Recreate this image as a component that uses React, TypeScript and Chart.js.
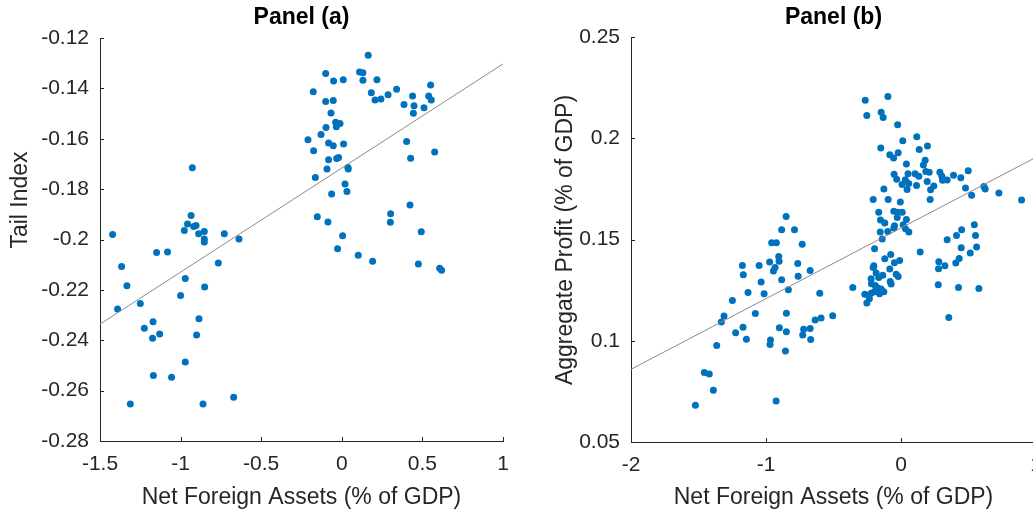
import React, { useEffect, useRef } from 'react';
import { Chart, registerables } from 'chart.js';

Chart.register(...registerables);

const FONT = '"Liberation Sans", Arial, Helvetica, sans-serif';
const AXIS_COLOR = '#262626';
const DOT_COLOR = '#0072BD';
const FIT_COLOR = '#8a8a8a';

// ---------- Panel (a) ----------
const aTitle = 'Panel (a)';
const aYLabel = 'Tail Index';
const xLabel = 'Net Foreign Assets (% of GDP)';
const aXTicks = [-1.5, -1, -0.5, 0, 0.5, 1];
const aXTickLabels = ['-1.5', '-1', '-0.5', '0', '0.5', '1'];
const aYTicks = [-0.28, -0.26, -0.24, -0.22, -0.2, -0.18, -0.16, -0.14, -0.12];
const aYTickLabels = ['-0.28', '-0.26', '-0.24', '-0.22', '-0.2', '-0.18', '-0.16', '-0.14', '-0.12'];
const aX = [
  -1.422, -0.927, -0.935, -0.957, -0.904, -0.919, -0.977, -0.888, -0.853, -0.853, -0.853, -0.729, -0.638,
  -1.149, -1.081, -1.366, -0.766, -1.333, -0.971, -0.851, -1.0, -1.25, -1.391, -1.171, -1.225, -0.886,
  -1.13, -1.174, -0.901, -0.971, -1.169, -1.056, -1.312, -0.861, -0.671,
  0.164, -0.1, 0.11, 0.131, -0.051, 0.009, 0.131, 0.218, -0.177, 0.183, 0.34, 0.551, -0.1, -0.053,
  0.206, 0.243, 0.287, 0.439, 0.539, 0.555, 0.386, 0.448, 0.51, 0.444, -0.067, -0.038, -0.011, -0.034,
  -0.098, -0.129, -0.21, -0.082, -0.053, 0.011, -0.175, 0.402, 0.576, 0.427, -0.082, -0.032, -0.02,
  -0.092, 0.038, 0.04, -0.164, 0.02, 0.032, -0.063, 0.423, 0.303, 0.301, -0.152, -0.086, 0.493, 0.005,
  -0.026, 0.102, 0.191, 0.475, 0.607, 0.619,
];
const aY = [
  -0.198, -0.1715, -0.1905, -0.1938, -0.1944, -0.1948, -0.1964, -0.1977, -0.1968, -0.1998, -0.201, -0.1977, -0.1998,
  -0.2052, -0.205, -0.2107, -0.2093, -0.2184, -0.2155, -0.2189, -0.2222, -0.2254, -0.2276, -0.2327, -0.2352, -0.2315,
  -0.2375, -0.2392, -0.2379, -0.2486, -0.254, -0.2547, -0.2653, -0.2653, -0.2626,
  -0.1268, -0.1341, -0.1335, -0.1338, -0.1371, -0.1366, -0.1368, -0.1366, -0.1413, -0.1417, -0.1403, -0.1387, -0.1452, -0.1448,
  -0.1446, -0.1442, -0.1425, -0.143, -0.143, -0.1446, -0.1464, -0.1469, -0.1477, -0.1499, -0.1498, -0.1534, -0.1539, -0.1552,
  -0.1555, -0.1583, -0.1604, -0.1617, -0.1628, -0.1621, -0.1648, -0.1611, -0.1653, -0.1677, -0.1683, -0.1678, -0.1674,
  -0.172, -0.1714, -0.172, -0.1754, -0.178, -0.1809, -0.1819, -0.1863, -0.1898, -0.1932, -0.191, -0.1931, -0.1969, -0.1985,
  -0.2037, -0.2063, -0.2086, -0.2097, -0.2114, -0.2122,
];
const aFitX = [-1.5, 1];
const aFitY = [-0.2336, -0.1303];

// ---------- Panel (b) ----------
const bTitle = 'Panel (b)';
const bYLabel = 'Aggregate Profit (% of GDP)';
const bXTicks = [-2, -1, 0, 1];
const bXTickLabels = ['-2', '-1', '0', '1'];
const bYTicks = [0.05, 0.1, 0.15, 0.2, 0.25];
const bYTickLabels = ['0.05', '0.1', '0.15', '0.2', '0.25'];
const bX = [
  -0.851, -0.884, -0.789, -0.958, -0.923, -0.732, -0.906, -0.903, -0.973, -1.175, -1.051, -0.765, -0.933, -0.945,
  -1.168, -0.673, -0.762, -1.036, -0.884, -1.133, -1.014, -0.834, -0.602, -1.249, -1.079, -0.849, -1.311, -1.331,
  -1.17, -1.225, -1.145, -0.901, -0.849, -0.721, -0.673, -0.728, -0.669, -0.636, -0.592, -0.506, -0.967, -0.97,
  -0.856, -1.365, -1.457, -1.42, -1.39, -1.523, -0.925,
  -0.265, -0.097, -0.147, -0.132, -0.253, -0.025, 0.013, 0.117, -0.15, 0.135, 0.196, -0.083, -0.055, -0.021,
  0.179, 0.166, 0.04, -0.051, -0.032, 0.052, 0.104, 0.032, 0.008, 0.057, 0.045, 0.115, 0.132, 0.184, 0.209,
  0.194, 0.243, 0.219, 0.288, 0.303, 0.308, 0.342, 0.389, 0.443, 0.498, 0.478, 0.523, 0.614, 0.624, 0.725,
  0.893, -0.127, -0.206, -0.095, -0.005, 0.216, -0.165, -0.053, -0.024, 0.009, -0.028, -0.152, -0.12, 0.04,
  -0.048, -0.053, 0.016, 0.033, 0.058, -0.154, -0.098, 0.543, 0.449, 0.552, 0.411, 0.342, -0.139, -0.196,
  0.142, 0.446, 0.56, 0.513, -0.076, -0.12, -0.01, -0.049, 0.28, 0.278, 0.325, 0.431, 0.406, -0.201, -0.206,
  -0.083, -0.184, -0.135, -0.036, -0.021, -0.221, -0.165, -0.08, -0.073, -0.219, -0.191, -0.172, -0.147,
  -0.357, -0.268, -0.221, -0.199, -0.159, -0.127, -0.234, -0.253, 0.276, 0.426, 0.577, 0.354,
];
const bY = [
  0.1614, 0.1548, 0.1548, 0.1484, 0.1484, 0.1476, 0.1416, 0.1393, 0.1389, 0.1372, 0.1372, 0.1382, 0.1362, 0.1344,
  0.1326, 0.1347, 0.1319, 0.129, 0.1301, 0.1238, 0.1232, 0.1252, 0.1235, 0.1199, 0.1134, 0.1136, 0.1122, 0.1093,
  0.1067, 0.1039, 0.1008, 0.1064, 0.1044, 0.1057, 0.106, 0.1029, 0.1006, 0.1103, 0.1112, 0.1123, 0.1004, 0.0981,
  0.095, 0.0976, 0.0843, 0.0836, 0.0756, 0.0681, 0.0703,
  0.2188, 0.2206, 0.2128, 0.2102, 0.2112, 0.2067, 0.1988, 0.2007, 0.1952, 0.1945, 0.1962, 0.1919, 0.1903, 0.1929,
  0.1891, 0.1868, 0.1873, 0.1822, 0.1797, 0.1825, 0.1825, 0.1795, 0.1772, 0.1776, 0.1747, 0.1767, 0.1812, 0.1836, 0.1832,
  0.1786, 0.1764, 0.1746, 0.1832, 0.1812, 0.1792, 0.1794, 0.1817, 0.1805, 0.184, 0.1754, 0.1718, 0.1762, 0.1749, 0.173,
  0.1695, 0.1749, 0.1698, 0.1698, 0.1685, 0.1697, 0.1634, 0.1639, 0.1634, 0.1634, 0.1609, 0.1596, 0.1581, 0.1599,
  0.1568, 0.1557, 0.1573, 0.1553, 0.1537, 0.1537, 0.154, 0.1573, 0.1548, 0.152, 0.152, 0.1499, 0.1502, 0.1454,
  0.1438, 0.1459, 0.1463, 0.1433, 0.1426, 0.1405, 0.1396, 0.1385, 0.139, 0.1355, 0.137, 0.1406, 0.1384, 0.137, 0.1362,
  0.1354, 0.1334, 0.1324, 0.1329, 0.1317, 0.1306, 0.1312, 0.1293, 0.128, 0.1281, 0.1273, 0.126, 0.1255,
  0.1263, 0.123, 0.1235, 0.1242, 0.1232, 0.1242, 0.1207, 0.1186, 0.1276, 0.1263, 0.1258, 0.1115,
];
const bFitX = [-2, 1];
const bFitY = [0.0859, 0.1906];

const zip = (xs: number[], ys: number[]) => xs.map((x, i) => ({ x, y: ys[i] }));

const labelFor = (ticks: number[], labels: string[]) => (v: any) => {
  const val = Number(v);
  let best = 0;
  for (let i = 1; i < ticks.length; i++) {
    if (Math.abs(ticks[i] - val) < Math.abs(ticks[best] - val)) best = i;
  }
  return labels[best];
};

const innerTicks = {
  id: 'innerTicks',
  afterDraw(chart: any) {
    const { ctx, chartArea, scales } = chart;
    const len = 4;
    ctx.save();
    ctx.strokeStyle = AXIS_COLOR;
    ctx.lineWidth = 1;
    scales.x.ticks.forEach((t: any) => {
      const px = Math.round(scales.x.getPixelForValue(t.value)) + 0.5;
      ctx.beginPath();
      ctx.moveTo(px, chartArea.bottom);
      ctx.lineTo(px, chartArea.bottom - len);
      ctx.stroke();
    });
    scales.y.ticks.forEach((t: any) => {
      const py = Math.round(scales.y.getPixelForValue(t.value)) + 0.5;
      ctx.beginPath();
      ctx.moveTo(chartArea.left, py);
      ctx.lineTo(chartArea.left + len, py);
      ctx.stroke();
    });
    ctx.restore();
  },
};

// Draws the vertical axis label (MATLAB ylabel) at a chosen position.
const yAxisLabel = {
  id: 'yAxisLabel',
  afterDraw(chart: any, _args: any, opts: any) {
    const { ctx } = chart;
    ctx.save();
    ctx.translate(opts.x, opts.y);
    ctx.rotate(-Math.PI / 2);
    ctx.fillStyle = AXIS_COLOR;
    ctx.font = `23px ${FONT}`;
    ctx.textAlign = 'center';
    ctx.textBaseline = 'middle';
    ctx.fillText(opts.text, 0, 0);
    ctx.restore();
  },
};

type PanelSpec = {
  title: string;
  yLabel: string;
  points: { x: number; y: number }[];
  fit: { x: number; y: number }[];
  xTicks: number[];
  xTickLabels: string[];
  yTicks: number[];
  yTickLabels: string[];
  yWidth: number;
  xHeight: number;
  padRight: number;
  titlePadTop: number;
  titlePadBottom: number;
  yLabelX: number;
  yLabelY: number;
};

function makeConfig(p: PanelSpec): any {
  return {
    type: 'scatter',
    data: {
      datasets: [
        {
          type: 'line',
          data: p.fit,
          borderColor: FIT_COLOR,
          borderWidth: 1,
          pointRadius: 0,
          fill: false,
          order: 0,
        },
        {
          type: 'scatter',
          data: p.points,
          backgroundColor: DOT_COLOR,
          borderColor: DOT_COLOR,
          borderWidth: 0,
          pointRadius: 3.5,
          order: 1,
        },
      ],
    },
    options: {
      animation: false,
      responsive: true,
      maintainAspectRatio: false,
      events: [],
      layout: { padding: { left: 0, right: p.padRight, top: 0, bottom: 0 } },
      plugins: {
        legend: { display: false },
        tooltip: { enabled: false },
        title: {
          display: true,
          text: p.title,
          fullSize: false,
          color: '#000',
          font: { family: FONT, size: 23, weight: 'bold', lineHeight: 1.2 },
          padding: { top: p.titlePadTop, bottom: p.titlePadBottom },
        },
        yAxisLabel: { text: p.yLabel, x: p.yLabelX, y: p.yLabelY },
      },
      scales: {
        x: {
          type: 'linear',
          min: p.xTicks[0],
          max: p.xTicks[p.xTicks.length - 1],
          grid: { display: false, drawTicks: false },
          border: { display: true, color: AXIS_COLOR, width: 1 },
          afterBuildTicks: (s: any) => {
            s.ticks = p.xTicks.map((v) => ({ value: v }));
          },
          afterFit: (s: any) => {
            s.height = p.xHeight;
          },
          ticks: {
            color: AXIS_COLOR,
            font: { family: FONT, size: 21 },
            padding: 11,
            autoSkip: false,
            maxRotation: 0,
            callback: labelFor(p.xTicks, p.xTickLabels),
          },
          title: {
            display: true,
            text: xLabel,
            color: AXIS_COLOR,
            font: { family: FONT, size: 23 },
            padding: { top: 0, bottom: 1 },
          },
        },
        y: {
          type: 'linear',
          min: p.yTicks[0],
          max: p.yTicks[p.yTicks.length - 1],
          grid: { display: false, drawTicks: false },
          border: { display: true, color: AXIS_COLOR, width: 1 },
          afterBuildTicks: (s: any) => {
            s.ticks = p.yTicks.map((v) => ({ value: v }));
          },
          afterFit: (s: any) => {
            s.width = p.yWidth;
          },
          ticks: {
            color: AXIS_COLOR,
            font: { family: FONT, size: 21 },
            padding: 11,
            autoSkip: false,
            callback: labelFor(p.yTicks, p.yTickLabels),
          },
          title: { display: false },
        },
      },
    },
    plugins: [innerTicks, yAxisLabel],
  };
}

function Panel({ spec, left, width }: { spec: PanelSpec; left: number; width: number }) {
  const ref = useRef<HTMLCanvasElement | null>(null);
  useEffect(() => {
    if (!ref.current) return;
    const chart = new Chart(ref.current, makeConfig(spec));
    return () => chart.destroy();
  }, []);
  return (
    <div style={{ position: 'absolute', left, top: 0, width, height: 512 }}>
      <canvas ref={ref} />
    </div>
  );
}

const specA: PanelSpec = {
  title: aTitle,
  yLabel: aYLabel,
  points: zip(aX, aY),
  fit: zip(aFitX, aFitY),
  xTicks: aXTicks,
  xTickLabels: aXTickLabels,
  yTicks: aYTicks,
  yTickLabels: aYTickLabels,
  yWidth: 100,
  xHeight: 71,
  padRight: 17,
  titlePadTop: 4,
  titlePadBottom: 6.4,
  yLabelX: 21,
  yLabelY: 200,
};

const specB: PanelSpec = {
  title: bTitle,
  yLabel: bYLabel,
  points: zip(bX, bY),
  fit: zip(bFitX, bFitY),
  xTicks: bXTicks,
  xTickLabels: bXTickLabels,
  yTicks: bYTicks,
  yTickLabels: bYTickLabels,
  yWidth: 91,
  xHeight: 70,
  padRight: 24,
  titlePadTop: 3.5,
  titlePadBottom: 5.9,
  yLabelX: 26,
  yLabelY: 240,
};

export default function App() {
  return (
    <div
      style={{
        position: 'absolute',
        left: 0,
        top: 0,
        width: 1033,
        height: 512,
        overflow: 'hidden',
        background: '#ffffff',
      }}
    >
      <Panel spec={specA} left={0} width={520} />
      <Panel spec={specB} left={540} width={520} />
    </div>
  );
}
